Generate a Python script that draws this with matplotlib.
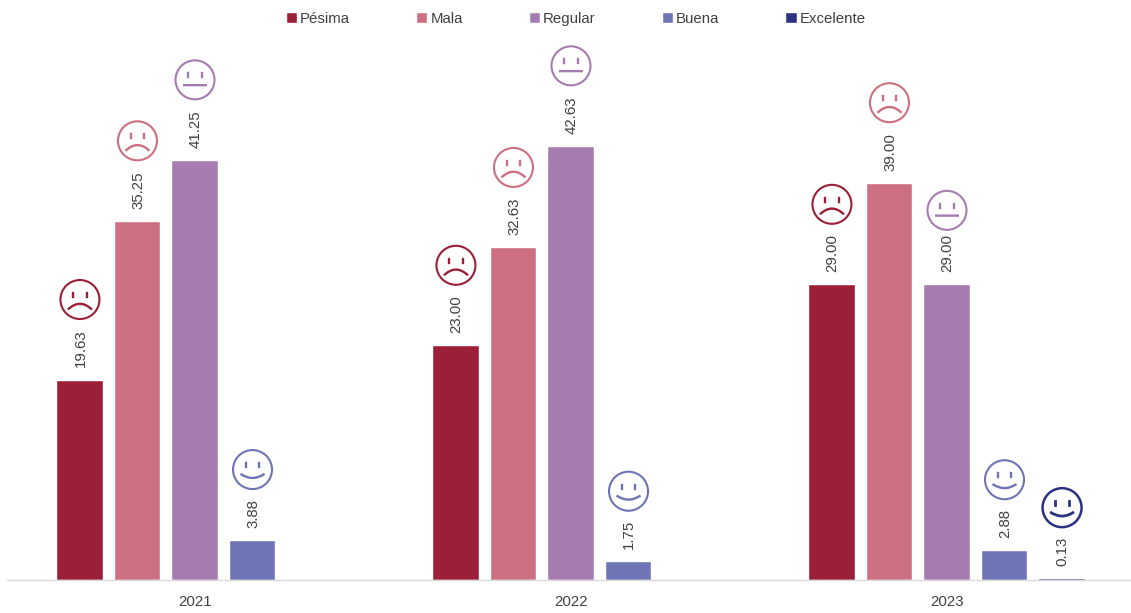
# encuesta de percepcion por anio
import numpy as np
import matplotlib.pyplot as plt
from matplotlib.patches import Circle, PathPatch
from matplotlib.path import Path
from matplotlib.transforms import Affine2D

years = ['2021', '2022', '2023']
labels = ['Pésima', 'Mala', 'Regular', 'Buena', 'Excelente']
pesima = [19.63, 23.00, 29.00]
mala = [35.25, 32.63, 39.00]
regular = [41.25, 42.63, 29.00]
buena = [3.88, 1.75, 2.88]
excelente = [np.nan, np.nan, 0.13]
colors = ['#9B1F37', '#CC6F80', '#A67CB0', '#6F74B4', '#2B3282']

# forma de la cara por categoria
faces = ['sad', 'sad', 'neutral', 'happy', 'happy']
mouth_y = {'sad': (-10.0, 1.5), 'neutral': (-5.3, -5.3), 'happy': (-4.3, -12.5)}

W, H = 1131, 613
plt.rcParams['font.family'] = ['Liberation Sans', 'DejaVu Sans']
gray = '#404040'
fsize = 10.8

fig = plt.figure(figsize=(W / 100, H / 100), dpi=100)
# los ejes se salen un poco por la derecha, como en el original
ax = fig.add_axes([7 / W, 33 / H, 1128 / W, 580 / H])
ax.set_xlim(-0.5, 2.5)
ax.set_ylim(0, 57.08)


def draw_face(cx, cy, kind, color, lw):
    # cara en pixeles, centrada en cx, cy
    tr = Affine2D().translate(cx, cy)
    fig.add_artist(Circle((0, 0), 19.5, fill=False, ec=color, lw=lw, transform=tr))
    for ex in (-6.6, 6.6):
        fig.add_artist(plt.Line2D([ex, ex], [2.7, 6.7], color=color, lw=lw + 0.2, transform=tr))
    end, ctrl = mouth_y[kind]
    p = Path([(-12, end), (0, ctrl), (12, end)], [Path.MOVETO, Path.CURVE3, Path.CURVE3])
    fig.add_artist(PathPatch(p, fill=False, ec=color, lw=lw + 0.2, transform=tr))


series = [pesima, mala, regular, buena, excelente]
x = np.arange(len(years))
step = 0.153
for i, vals in enumerate(series):
    xs = x + (i - 2) * step
    bars = ax.bar(xs, vals, 0.122, color=colors[i], label=labels[i],
                  edgecolor='#FFFFFF', linewidth=0.3)
    for j, (bx, v) in enumerate(zip(xs, vals)):
        if np.isnan(v):
            continue
        ax.annotate(f'{v:.2f}', (bx, v), xytext=(0.4, 9.4), textcoords='offset points',
                    rotation=90, ha='center', va='bottom', fontsize=fsize, color=gray)
        px, py = ax.transData.transform((bx, v))
        # las etiquetas cortas dejan la cara mas abajo
        off = 81 if v >= 10 else 71
        if labels[i] == 'Regular' and years[j] == '2023':
            off = 75
        draw_face(px, py + off, faces[i], colors[i], 1.8 if i == 4 else 1.5)

ax.set_xticks(x, years)
ax.tick_params(axis='x', length=0, pad=11, labelsize=fsize, labelcolor=gray)
ax.set_yticks([])
for s in ['top', 'left', 'right']:
    ax.spines[s].set_visible(False)
ax.spines['bottom'].set_color('#D9D9D9')
ax.spines['bottom'].set_linewidth(1.0)

fig.legend(loc='upper left', bbox_to_anchor=(281 / W, 1 - 6 / H), ncols=5, frameon=False,
           fontsize=fsize, labelcolor=gray, handlelength=0.68, handleheight=0.68,
           handletextpad=0.2, columnspacing=4.47, borderpad=0.4, borderaxespad=0)

fig.savefig('out.png', dpi=100)
